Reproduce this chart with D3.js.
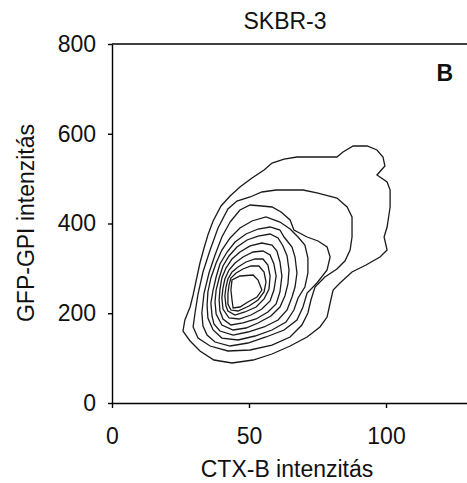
<!DOCTYPE html>
<html>
<head>
<meta charset="utf-8">
<script src="https://cdn.jsdelivr.net/npm/d3@7"></script>
<style>
  body { margin: 0; background: #fff; }
  text { font-family: Arial, 'Liberation Sans', sans-serif; fill: #111; }
</style>
</head>
<body>
<div id="chart"></div>
<script>
// Axis setup
const xTicks = [0, 50, 100];
const yTicks = [0, 200, 400, 600, 800];
const xMax = 130;
const yMax = 800;

// Contour rings, outermost first. [CTX-B, GFP-GPI]
const contour1 = [[25.9,160.4],[26.6,185.0],[28.5,213.9],[29.6,240.7],[31.0,280.8],[32.1,312.0],[33.6,345.4],[35.0,374.4],[36.9,405.6],[39.8,439.0],[43.1,461.3],[46.7,481.3],[51.1,501.4],[55.5,519.2],[58.4,534.8],[62.8,543.7],[67.5,548.2],[75.2,548.2],[82.1,548.2],[84.3,559.3],[88.0,572.7],[93.1,572.7],[96.7,563.8],[98.9,548.2],[99.6,528.1],[96.7,508.1],[100.4,492.5],[101.5,474.6],[101.5,436.8],[100.4,392.2],[99.3,369.9],[100.4,340.9],[97.8,325.3],[92.7,307.5],[87.6,291.9],[83.2,267.4],[80.7,251.8],[79.6,222.8],[78.5,191.6],[75.9,169.4],[71.2,147.1],[65.0,127.0],[58.4,109.2],[51.5,95.8],[43.8,89.1],[37.2,95.8],[32.1,115.9],[28.5,138.2]];
const contour2 = [[59.9,474.6],[69.7,474.6],[74.8,468.0],[82.1,456.8],[85.8,436.8],[87.6,414.5],[87.6,369.9],[86.9,340.9],[85.0,316.4],[82.1,298.6],[77.7,280.8],[74.1,258.5],[72.6,229.5],[71.5,200.6],[69.3,173.8],[65.0,147.1],[58.4,129.2],[50.4,118.1],[42.3,115.9],[35.8,127.0],[31.4,144.8],[29.6,169.4],[30.3,200.6],[31.4,242.9],[33.2,291.9],[35.8,340.9],[38.7,390.0],[42.3,432.3],[45.6,450.1],[50.4,459.1],[54.7,470.2]];
const contour3 = [[43.1,403.3],[46.7,430.1],[50.4,441.2],[54.7,439.0],[58.4,436.8],[61.7,425.6],[65.0,407.8],[66.4,385.5],[71.2,369.9],[75.2,361.0],[78.5,347.6],[79.6,325.3],[78.5,296.4],[74.8,267.4],[71.2,245.1],[69.7,213.9],[67.5,185.0],[62.8,162.7],[56.2,147.1],[49.6,133.7],[43.1,127.0],[37.6,135.9],[34.7,151.5],[33.2,171.6],[32.8,200.6],[33.6,245.1],[35.4,289.7],[37.6,329.8],[40.1,369.9]];
const contour4 = [[35.0,189.4],[34.7,218.4],[35.0,247.4],[36.1,278.6],[38.0,312.0],[40.1,340.9],[43.1,367.7],[46.7,390.0],[51.1,405.6],[56.2,414.5],[61.3,403.3],[65.0,387.7],[67.9,369.9],[70.4,352.1],[71.5,323.1],[71.5,289.7],[70.4,258.5],[67.9,234.0],[66.4,207.2],[63.5,180.5],[58.4,162.7],[52.2,149.3],[46.0,140.4],[40.1,144.8],[36.9,162.7]];
const contour5 = [[36.5,193.9],[36.1,222.8],[36.9,251.8],[38.0,280.8],[39.4,309.7],[42.0,336.5],[44.9,358.8],[48.9,376.6],[53.3,387.7],[57.7,392.2],[61.3,385.5],[62.8,369.9],[65.7,347.6],[66.8,325.3],[67.5,289.7],[66.8,258.5],[65.7,236.2],[63.9,207.2],[60.6,185.0],[55.5,169.4],[49.6,158.2],[44.2,151.5],[39.4,160.4],[37.2,176.0]];
const contour6 = [[38.0,198.3],[37.6,225.1],[38.0,251.8],[39.1,278.6],[40.5,305.3],[42.7,327.6],[45.6,347.6],[49.3,363.2],[53.3,372.1],[57.7,376.6],[60.6,367.7],[62.4,349.9],[63.9,327.6],[64.6,296.4],[64.2,265.2],[63.1,238.4],[61.3,213.9],[58.0,193.9],[53.3,178.3],[48.9,167.1],[44.2,162.7],[40.1,173.8]];
const contour7 = [[39.4,205.0],[39.1,229.5],[39.4,254.0],[40.1,278.6],[41.6,300.8],[43.8,320.9],[46.7,336.5],[50.4,349.9],[54.7,356.5],[58.4,352.1],[60.2,338.7],[61.3,314.2],[62.0,283.0],[61.3,247.4],[59.9,220.6],[56.9,202.8],[52.6,187.2],[47.8,178.3],[43.4,173.8],[40.5,187.2]];
const contour8 = [[40.5,209.5],[40.1,234.0],[40.5,256.3],[41.2,276.3],[42.7,296.4],[44.9,312.0],[47.8,325.3],[51.5,336.5],[55.1,338.7],[57.7,329.8],[59.1,309.7],[59.9,283.0],[59.1,251.8],[57.7,227.3],[54.7,209.5],[50.7,196.1],[46.4,187.2],[42.7,189.4]];
const contour9 = [[41.6,216.2],[41.2,238.4],[41.6,258.5],[42.3,276.3],[43.8,291.9],[46.0,303.1],[48.9,314.2],[52.2,320.9],[55.1,320.9],[56.9,307.5],[57.7,283.0],[57.3,254.0],[55.5,231.8],[52.6,213.9],[48.5,202.8],[44.9,196.1],[42.3,205.0]];
const contour10 = [[42.3,220.6],[42.3,242.9],[42.7,262.9],[43.4,278.6],[45.3,289.7],[47.8,298.6],[50.7,305.3],[53.6,305.3],[55.5,291.9],[56.2,269.6],[55.5,247.4],[53.3,229.5],[50.0,216.2],[46.0,205.0],[43.4,207.2]];
const contour11 = [[43.8,229.5],[43.4,251.8],[43.8,274.1],[46.7,283.0],[51.5,285.2],[53.3,274.1],[54.7,251.8],[52.9,236.2],[49.6,225.1],[46.7,213.9],[44.2,211.7]];

const contours = [contour1, contour2, contour3, contour4, contour5, contour6,
  contour7, contour8, contour9, contour10, contour11];

const width = 467;
const height = 483;
const margins = {top: 44, left: 112, bottom: 80};

const svg = d3.select('#chart').append('svg')
  .attr('width', width)
  .attr('height', height);

const x = d3.scaleLinear()
  .domain([0, xMax])
  .range([margins.left, margins.left + xMax * 2.74]);

const y = d3.scaleLinear()
  .domain([0, yMax])
  .range([height - margins.bottom, margins.top]);

// Contours
const line = d3.line()
  .x(d => x(d[0]))
  .y(d => y(d[1]))
  .curve(d3.curveLinearClosed);

svg.append('g')
  .selectAll('path')
  .data(contours)
  .enter()
  .append('path')
  .attr('d', line)
  .attr('fill', 'none')
  .attr('stroke', '#1a1a1a')
  .attr('stroke-width', 1.3);

// Axes
const xAxis = svg.append('g')
  .attr('transform', `translate(0, ${y(0)})`)
  .call(d3.axisBottom(x).tickValues(xTicks).tickSize(5).tickSizeOuter(0).tickPadding(20));

const yAxis = svg.append('g')
  .attr('transform', `translate(${x(0)}, 0)`)
  .call(d3.axisLeft(y).tickValues(yTicks).tickSize(4).tickSizeOuter(0).tickPadding(12));

[xAxis, yAxis].forEach(a => {
  a.selectAll('path, line').attr('stroke', '#000').attr('stroke-width', 1.4);
  a.selectAll('text')
    .attr('font-size', '23px')
    .attr('font-family', 'Arial, "Liberation Sans", sans-serif')
    .attr('fill', '#111');
});
xAxis.selectAll('text').attr('dy', '0.71em');

// top frame line
svg.append('line')
  .attr('x1', x(0)).attr('x2', x(xMax))
  .attr('y1', y(yMax)).attr('y2', y(yMax))
  .attr('stroke', '#000')
  .attr('stroke-width', 1.4);

// Labels
svg.append('text')
  .attr('x', 285)
  .attr('y', 29)
  .attr('text-anchor', 'middle')
  .attr('font-size', '23px')
  .text('SKBR-3');

svg.append('text')
  .attr('x', 453)
  .attr('y', 81)
  .attr('text-anchor', 'end')
  .attr('font-size', '23px')
  .attr('font-weight', 'bold')
  .text('B');

svg.append('text')
  .attr('x', 287)
  .attr('y', 477)
  .attr('text-anchor', 'middle')
  .attr('font-size', '23px')
  .text('CTX-B intenzitás');

svg.append('text')
  .attr('transform', 'rotate(-90)')
  .attr('x', -223)
  .attr('y', 34)
  .attr('text-anchor', 'middle')
  .attr('font-size', '23px')
  .text('GFP-GPI intenzitás');
</script>
</body>
</html>
